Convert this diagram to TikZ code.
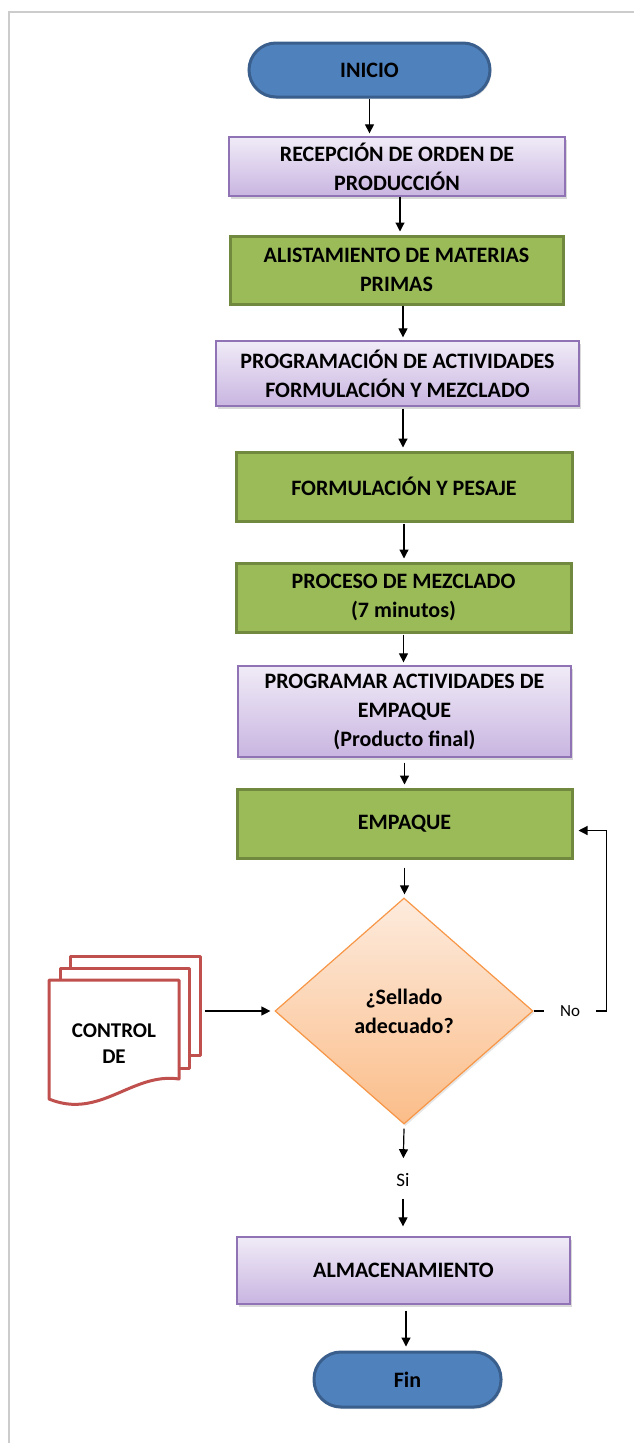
\documentclass[tikz,border=0pt]{standalone}
\usepackage{fontspec}
\setmainfont{Carlito}
\usetikzlibrary{arrows.meta,shapes.geometric,shadows}

\definecolor{bluefill}{HTML}{4F81BD}
\definecolor{blueline}{HTML}{3A5F8C}
\definecolor{greenfill}{HTML}{9BBB59}
\definecolor{greenline}{HTML}{71893F}
\definecolor{purpletop}{HTML}{F0EBF7}
\definecolor{purplebot}{HTML}{C9B5E1}
\definecolor{purpleline}{HTML}{8F73B5}
\definecolor{orangetop}{HTML}{FDEBDD}
\definecolor{orangebot}{HTML}{FBBD89}
\definecolor{orangeline}{HTML}{F79646}
\definecolor{docline}{HTML}{C0504D}
\definecolor{framegray}{HTML}{CCCCCC}

\begin{document}
\begin{tikzpicture}[x=1pt,y=-1pt,
  txt/.style={align=center,font=\fontsize{22}{29}\selectfont\bfseries,inner sep=0pt},
  softshadow/.style={drop shadow={shadow xshift=2pt,shadow yshift=-3pt,opacity=0.3}},
  purplebox/.style={txt,rectangle,draw=purpleline,line width=1.3pt,
    top color=purpletop,bottom color=purplebot,softshadow},
  greenbox/.style={txt,rectangle,draw=greenline,line width=3pt,fill=greenfill,
    drop shadow={shadow xshift=1.5pt,shadow yshift=-2pt,opacity=0.2}},
  terminal/.style={txt,rectangle,rounded corners=27pt,draw=blueline,line width=3pt,
    fill=bluefill,drop shadow={shadow xshift=1.5pt,shadow yshift=-2pt,opacity=0.2}},
  decision/.style={txt,diamond,aspect=1.14,draw=orangeline,line width=1.2pt,
    top color=orangetop,bottom color=orangebot,
    drop shadow={shadow xshift=1.5pt,shadow yshift=-2pt,opacity=0.2}},
  docpage/.style={draw=docline,line width=3pt,fill=white,line join=round},
  arr/.style={line width=1.2pt,-{Triangle[length=9pt,width=9pt]},shorten >=3pt},
  branch/.style={font=\fontsize{17}{20}\selectfont,inner sep=0pt}
]
\useasboundingbox (0,0) rectangle (634,1443);

% page frame
\draw[framegray,line width=2pt] (9,1443) -- (9,12) -- (634,12);

% main column of steps
\node[terminal,minimum width=241pt,minimum height=54pt] (inicio) at (369.5,70) {INICIO};
\node[purplebox,minimum width=336pt,minimum height=59pt] (rec) at (397,166.5)
  {RECEPCIÓN DE ORDEN DE\\PRODUCCIÓN};
\node[greenbox,minimum width=333pt,minimum height=68pt] (ali) at (396.5,270)
  {ALISTAMIENTO DE MATERIAS\\PRIMAS};
\node[purplebox,minimum width=363pt,minimum height=65pt] (prog) at (397.5,373.5)
  {PROGRAMACIÓN DE ACTIVIDADES\\FORMULACIÓN Y MEZCLADO};
\node[greenbox,minimum width=336pt,minimum height=69pt] (form) at (404,486.5)
  {FORMULACIÓN Y PESAJE};
\node[greenbox,minimum width=335pt,minimum height=69pt] (proc) at (403.5,597.5)
  {PROCESO DE MEZCLADO\\(7 minutos)};
\node[purplebox,minimum width=333pt,minimum height=91pt] (progr) at (404.5,711.5)
  {PROGRAMAR ACTIVIDADES DE\\EMPAQUE\\(Producto final)};
\node[greenbox,minimum width=335pt,minimum height=69pt] (emp) at (404.5,823.5)
  {EMPAQUE};
\node[decision,minimum width=258pt,minimum height=226pt] (dec) at (404,1011)
  {¿Sellado\\adecuado?};
\node[branch,font=\fontsize{19}{22}\selectfont] (si) at (403,1180) {Si};
\node[purplebox,minimum width=333pt,minimum height=67pt] (alm) at (403.5,1270.5)
  {ALMACENAMIENTO};
\node[terminal,minimum width=187pt,minimum height=55pt] (fin) at (407.5,1379.5) {Fin};

% stacked documents
\draw[docpage] (70,1055) -- (70,956) -- (200,956) -- (200,1055) -- cycle;
\draw[docpage] (60,1068) -- (60,968) -- (189,968) -- (189,1068) -- cycle;
\draw[docpage] (49,1099) -- (49,980) -- (179,980) -- (179,1079)
  .. controls (132,1072) and (100,1120) .. (49,1099) -- cycle;
\node[txt,font=\fontsize{21}{26}\selectfont\bfseries] (ctrl) at (114,1044) {CONTROL\\DE};
\coordinate (docR) at (205,1011);

% connectors
\draw[arr] (inicio.south) -- (inicio.south |- rec.north);
\draw[arr] ([xshift=3pt]rec.south) -- ([xshift=3pt]rec.south |- ali.north);
\draw[arr] ([xshift=6.5pt]ali.south) -- ([xshift=6.5pt]ali.south |- prog.north);
\draw[arr] ([xshift=5.5pt]prog.south) ++(0,2) -- ([xshift=5.5pt]prog.south |- form.north);
\draw[arr] (form.south) ++(0,1) -- (form.south |- proc.north);
\draw[arr] (proc.south) ++(0,1) -- (proc.south |- progr.north);
\draw[arr] (progr.south) ++(0,5) -- (progr.south |- emp.north);
\draw[arr] (emp.south) ++(0,8) -- (emp.south |- dec.north);
\draw[arr,shorten >=15pt] ([yshift=-4pt]dec.south) -- (si.north);
\draw[arr,shorten >=10pt] ([yshift=-12pt]si.south) -- (si.south |- alm.north);
\draw[arr,shorten >=4pt] ([xshift=2.5pt,yshift=-6pt]alm.south) -- ([xshift=2.5pt]alm.south |- fin.north);
\draw[arr,shorten >=4pt] (docR) -- (dec.west);
\draw[arr,shorten >=5pt] (dec.east) -- node[branch,fill=white,inner xsep=16pt,inner ysep=3pt] {No}
  ([xshift=73pt]dec.east) |- ([yshift=-7pt]emp.east);
\end{tikzpicture}
\end{document}
